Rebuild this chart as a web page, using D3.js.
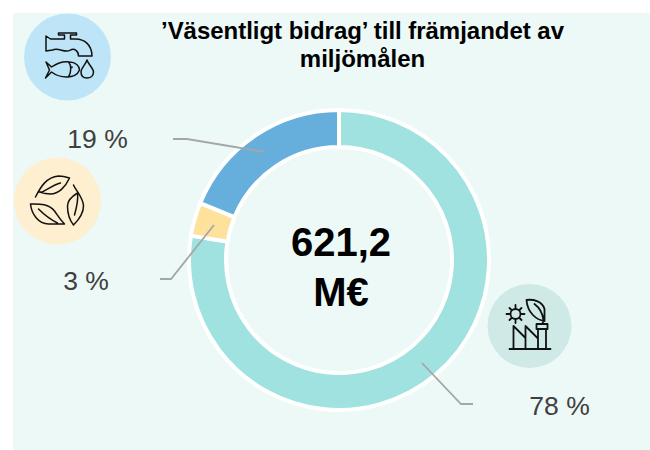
<!DOCTYPE html>
<html><head><meta charset="utf-8">
<script src="https://cdn.jsdelivr.net/npm/d3@7"></script>
<style>html,body{margin:0;padding:0;background:#fff}svg{display:block}text{font-family:"Liberation Sans",Arial,sans-serif}</style>
</head><body><svg id="c" width="650" height="450"></svg>
<script>
const categories = ["Vatten", "Cirkulär ekonomi", "Klimat"];
const values = [77.6, 3.6, 18.8];
const colors = ["#a0e2df", "#fee29b", "#66afdc"];
const labels = ["78 %", "3 %", "19 %"];
const titleLines = ["’Väsentligt bidrag’ till främjandet av", "miljömålen"];
const centerLines = ["621,2", "M€"];

const svg = d3.select("#c");
svg.append("rect").attr("x",13).attr("y",13).attr("width",637).attr("height",437).attr("fill","#edf9f7");
const cx=339, cy=260;
const pie = d3.pie().sort(null).value(d=>d);
const arc = d3.arc().innerRadius(113).outerRadius(150);
const g = svg.append("g").attr("transform",`translate(${cx},${cy})`);
g.selectAll("path").data(pie(values)).join("path").attr("d",arc)
  .attr("fill",(d,i)=>colors[i]).attr("stroke","#fff").attr("stroke-width",4).attr("stroke-linejoin","miter");

// leader lines
const leader = [
 [[83,103],[122,144],[134,144]],
 [[-125,-35],[-168,19],[-179,19]],
 [[-74,-108],[-152,-121],[-166,-121]]
];
const lineGen = d3.line();
g.selectAll("path.l").data(leader).join("path").attr("class","l").attr("d",lineGen)
  .attr("fill","none").attr("stroke","#a6a6a6").attr("stroke-width",1.8);

// text
svg.selectAll("text.t").data(titleLines).join("text").attr("class","t")
  .attr("x",362.5).attr("y",(d,i)=>39+i*28).attr("text-anchor","middle")
  .attr("font-size",24).attr("font-weight","bold").attr("fill","#000").attr("textLength",(d,i)=>i==0?403:null).text(d=>d);
svg.selectAll("text.m").data(centerLines).join("text").attr("class","m")
  .attr("x",cx+2).attr("y",(d,i)=>256+i*50).attr("text-anchor","middle")
  .attr("font-size",40).attr("font-weight","bold").attr("fill","#000").text(d=>d);
const labelPos=[[559.5,415],[86,290],[97.5,148]];
svg.selectAll("text.p").data(labels).join("text").attr("class","p")
  .attr("x",(d,i)=>labelPos[i][0]).attr("y",(d,i)=>labelPos[i][1]).attr("text-anchor","middle")
  .attr("font-size",26.5).attr("fill","#404040").text(d=>d);

// icon badges
const ic=(x,y,r,fill)=>{svg.append("circle").attr("cx",x).attr("cy",y).attr("r",r).attr("fill",fill);
  return svg.append("g").attr("transform",`translate(${x},${y})`).attr("fill","none").attr("stroke","#111").attr("stroke-linejoin","round").attr("stroke-linecap","round");};
// tap, fish, drop
const a=ic(67.5,57,43.5,"#bee5f7").attr("stroke-width",1.5);
a.append("path").attr("d","M-21.5,-21 L-17,-18 L-3,-18 L-3,-22 L-9,-22 L-9,-24 L9,-24 L9,-22 L3,-22 L3,-18 L8,-18 C17,-18 24.5,-12 24.5,-1 L11,-1 C11,-6 7,-9 3,-7 C-3,-3 -8,-10 -15,-7 L-21.5,-6 Z");
a.append("path").attr("d","M-21.5,5 L-16,10 C-10,6 -3,4 2,5 C8,5 12,9 12,13 C10,18 5,20 -1,20 C-8,20 -12,18 -16,15 L-22,21 L-18,13 Z M1,5 C4,8 4,15 1,20 M4.5,10 L4.5,10.5");
a.append("path").attr("d","M19.5,3 C18,8 13.5,11 13.5,15 C13.5,19 16,21 19.5,21 C23,21 26,19 26,15 C26,11 21,8 19.5,3 Z");
// leaves
const b=ic(57.5,201,43.5,"#fdefcf").attr("stroke-width",1.5);
b.append("path").attr("d","M-22,-4 C-17,-14 -11,-24 1,-25 C5,-25 9,-24 12,-23 C8,-14 1,-7 -7,-7 C-11,-7 -15,-8 -18,-9 L-15,-9 C-8,-13 -2,-17 3,-18");
b.append("path").attr("d","M16,-16 C18,-11 26,-3 26,5 C26,13 20,20 16,24 C12,19 10,11 10,5 C10,-1 15,-5 20,-8 M20,-8 C21,-1 19,7 17,14");
b.append("path").attr("d","M-27,3 C-20,3 -9,2 -3,10 C0,14 2,18 7,23 M-27,3 C-26,13 -19,23 -9,23 C-4,23 2,23 7,23 M-19,8 C-13,14 -6,19 0,22");
// factory
const c=ic(529.5,326,42,"#cfe9e7").attr("stroke-width",1.8);
c.append("path").attr("d","M-20,23 L21,23 M-16,23 L-16,0 L-4,12 M-4,23 L-4,0 L8,12 M8.5,23 L8.5,3 M16.5,23 L16.5,3 M7,3 L7,-2 L18,-2 L18,3 Z");
c.append("circle").attr("cx",-14).attr("cy",-12).attr("r",5);
c.append("path").attr("d","M-14,-21 L-14,-18 M-14,-6 L-14,-3 M-23,-12 L-20,-12 M-8,-12 L-5,-12 M-20,-18 L-18,-16 M-10,-8 L-8,-6 M-20,-6 L-18,-8 M-10,-16 L-8,-18");
c.append("path").attr("d","M-3,-26 C3,-27 13,-25 15,-17 L15,-5 C7,-6 -2,-13 -3,-26 Z M5,-22 C9,-19 13,-14 14,-6 M13,-2 L14,-6");
</script></body></html>
